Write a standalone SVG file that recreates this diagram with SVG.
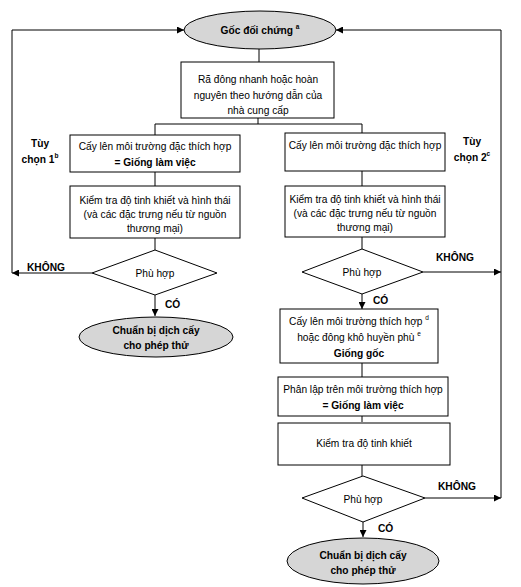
<svg xmlns="http://www.w3.org/2000/svg" width="521" height="587" viewBox="0 0 521 587">
<style>
.box{fill:#fff;stroke:#000;stroke-width:1}
.ell{fill:#d6d6d6;stroke:#000;stroke-width:1}
.dia{fill:#fff;stroke:#000;stroke-width:1}
.ln{fill:none;stroke:#000;stroke-width:1}
text{font-family:"Liberation Sans",Arial,sans-serif;font-size:10.2px;fill:#000}
.c{text-anchor:middle}
.b{font-weight:bold}
.sup{font-size:6.5px}
</style>
<defs>
<marker id="ah" viewBox="0 0 10 10" refX="10" refY="5" markerWidth="7" markerHeight="7" orient="auto" markerUnits="userSpaceOnUse">
<path d="M0,0 L10,5 L0,10 z" fill="#000"/>
</marker>
</defs>
<g id="connectors">
<line class="ln" x1="12" y1="30" x2="184" y2="30" marker-end="url(#ah)"/>
<line class="ln" x1="501" y1="30" x2="336" y2="30" marker-end="url(#ah)"/>
<line class="ln" x1="259" y1="49" x2="259" y2="62"/>
<polyline class="ln" points="258,118 258,124"/>
<polyline class="ln" points="155,135 155,124 362,124 362,133"/>
<line class="ln" x1="155" y1="172" x2="155" y2="186"/>
<line class="ln" x1="362" y1="171" x2="362" y2="186"/>
<line class="ln" x1="155" y1="238" x2="155" y2="250"/>
<line class="ln" x1="362" y1="237" x2="362" y2="249"/>
<line class="ln" x1="92" y1="273" x2="12" y2="273" marker-end="url(#ah)"/>
<line class="ln" x1="12" y1="273" x2="12" y2="30"/>
<line class="ln" x1="155" y1="295" x2="155" y2="316" marker-end="url(#ah)"/>
<line class="ln" x1="501" y1="30" x2="501" y2="498"/>
<line class="ln" x1="423" y1="272" x2="501" y2="272" marker-end="url(#ah)"/>
<line class="ln" x1="362" y1="294" x2="362" y2="309" marker-end="url(#ah)"/>
<line class="ln" x1="362" y1="363" x2="362" y2="377"/>
<line class="ln" x1="362" y1="416" x2="362" y2="422"/>
<line class="ln" x1="362" y1="465" x2="362" y2="476"/>
<line class="ln" x1="425" y1="498" x2="501" y2="498" marker-end="url(#ah)"/>
<line class="ln" x1="363" y1="522" x2="363" y2="537" marker-end="url(#ah)"/>
<text class="b" x="27" y="271">KHÔNG</text>
<text class="b" x="165" y="308">CÓ</text>
<text class="b" x="436" y="261">KHÔNG</text>
<text class="b" x="373" y="304">CÓ</text>
<text class="b" x="438" y="490">KHÔNG</text>
<text class="b" x="378" y="532">CÓ</text>
</g>
<g id="goc">
<ellipse class="ell" cx="260" cy="30" rx="76" ry="19"/>
<text class="c b" x="260" y="34">Gốc đối chứng <tspan class="sup" dy="-5">a</tspan></text>
</g>
<g id="radong">
<rect class="box" x="181" y="62" width="153" height="56"/>
<text class="c" x="258" y="83">Rã đông nhanh hoặc hoàn</text>
<text class="c" x="258" y="99">nguyên theo hướng dẫn của</text>
<text class="c" x="258" y="114">nhà cung cấp</text>
</g>
<g id="tuychon1">
<text class="c b" x="40" y="147">Tùy</text>
<text class="c b" x="40" y="163">chọn 1<tspan class="sup" dy="-5">b</tspan></text>
</g>
<g id="tuychon2">
<text class="c b" x="472" y="145">Tùy</text>
<text class="c b" x="472" y="161">chọn 2<tspan class="sup" dy="-5">c</tspan></text>
</g>
<g id="cay1">
<rect class="box" x="70" y="135" width="170" height="37"/>
<text class="c" x="155" y="150">Cấy lên môi trường đặc thích hợp</text>
<text class="c b" x="155" y="166">= Giống làm việc</text>
</g>
<g id="kiemtra1">
<rect class="box" x="70" y="186" width="170" height="52"/>
<text class="c" x="155" y="204">Kiểm tra độ tinh khiết và hình thái</text>
<text class="c" x="155" y="218">(và các đặc trưng nếu từ nguồn</text>
<text class="c" x="155" y="232">thương mại)</text>
</g>
<g id="phuhop1">
<polygon class="dia" points="155,250 217,273 155,295 92,273"/>
<text class="c" x="155" y="277">Phù hợp</text>
</g>
<g id="chuanbi1">
<ellipse class="ell" cx="156" cy="337" rx="77" ry="20"/>
<text class="c b" x="156" y="334">Chuẩn bị dịch cấy</text>
<text class="c b" x="156" y="349">cho phép thử</text>
</g>
<g id="cay2">
<rect class="box" x="285" y="133" width="160" height="38"/>
<text class="c" x="365" y="149">Cấy lên môi trường đặc thích hợp</text>
</g>
<g id="kiemtra2">
<rect class="box" x="285" y="186" width="160" height="51"/>
<text class="c" x="365" y="203">Kiểm tra độ tinh khiết và hình thái</text>
<text class="c" x="365" y="217">(và các đặc trưng nếu từ nguồn</text>
<text class="c" x="365" y="231">thương mại)</text>
</g>
<g id="phuhop2">
<polygon class="dia" points="362,249 423,272 362,294 302,272"/>
<text class="c" x="362" y="276">Phù hợp</text>
</g>
<g id="giongoc">
<rect class="box" x="280" y="309" width="158" height="54"/>
<text class="c" x="359" y="325">Cấy lên môi trường thích hợp <tspan class="sup" dy="-5">d</tspan></text>
<text class="c" x="359" y="341">hoặc đông khô huyền phù <tspan class="sup" dy="-5">e</tspan></text>
<text class="c b" x="359" y="357">Giống gốc</text>
</g>
<g id="phanlap">
<rect class="box" x="278" y="377" width="170" height="39"/>
<text class="c" x="363" y="393">Phân lập trên môi trường thích hợp</text>
<text class="c b" x="363" y="409">= Giống làm việc</text>
</g>
<g id="kiemtra3">
<rect class="box" x="278" y="423" width="172" height="42"/>
<text class="c" x="364" y="447">Kiểm tra độ tinh khiết</text>
</g>
<g id="phuhop3">
<polygon class="dia" points="363,476 425,498 363,522 302,498"/>
<text class="c" x="363" y="503">Phù hợp</text>
</g>
<g id="chuanbi2">
<ellipse class="ell" cx="363" cy="561" rx="76" ry="23"/>
<text class="c b" x="363" y="559">Chuẩn bị dịch cấy</text>
<text class="c b" x="363" y="574">cho phép thử</text>
</g>
</svg>
